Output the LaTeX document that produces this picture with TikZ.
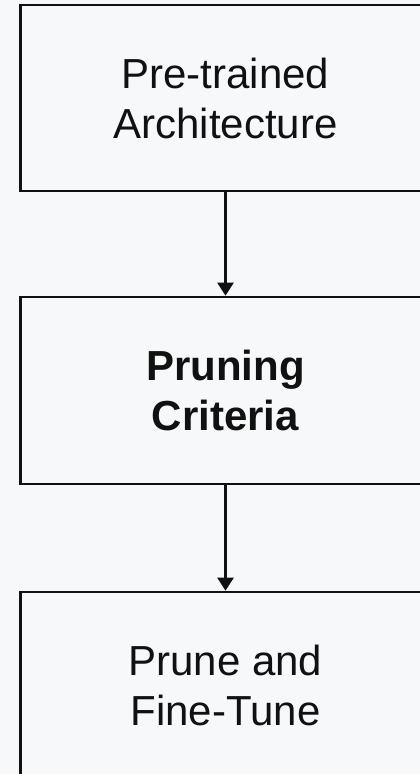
\documentclass[tikz,border=0pt]{standalone}
\usepackage{fontspec}
\setmainfont{Liberation Sans}
\usetikzlibrary{arrows.meta}
\definecolor{pagebg}{RGB}{247,248,250}
\definecolor{ink}{RGB}{17,17,17}
\tikzset{
  stagebox/.style={draw=ink, fill=pagebg, line width=2.6pt, rectangle,
    minimum width=410pt, minimum height=187pt, align=center, text=ink,
    font=\fontsize{42}{50}\selectfont, inner sep=0pt},
  flow/.style={draw=ink, line width=2.4pt,
    -{Triangle[length=13pt,width=16pt]}}
}
\begin{document}
\begin{tikzpicture}[x=1pt,y=-1pt]
  \useasboundingbox[fill=pagebg] (0,0) rectangle (420,774);
  \clip (0,0) rectangle (420,774);
  \node[stagebox, minimum height=186pt] (arch) at (225.5,98) {Pre-trained\\Architecture};
  \node[stagebox, font=\fontsize{42}{50}\selectfont\bfseries] (crit) at (225.5,390.5) {Pruning\\Criteria};
  \node[stagebox] (tune) at (225.5,685.5) {Prune and\\Fine-Tune};
  \draw[flow] (arch.south) -- (crit.north);
  \draw[flow] (crit.south) -- (tune.north);
\end{tikzpicture}
\end{document}
